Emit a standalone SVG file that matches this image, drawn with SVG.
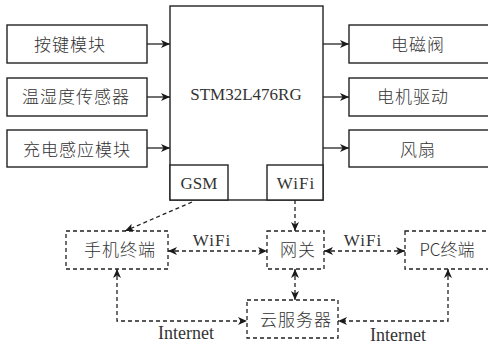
<svg xmlns="http://www.w3.org/2000/svg" width="488" height="350" viewBox="0 0 488 350">
<defs>
<marker id="ah" viewBox="0 0 9 8" refX="9" refY="4" markerWidth="9" markerHeight="8" markerUnits="userSpaceOnUse" orient="auto-start-reverse">
<path d="M0,0 L9,4 L0,8 L2.5,4 z" fill="#1a1a1a"/>
</marker>
</defs>
<style>
.box{fill:#fff;stroke:#222;stroke-width:1.4}
.dbox{fill:none;stroke:#222;stroke-width:1.3;stroke-dasharray:4 3}
.ln{fill:none;stroke:#222;stroke-width:1.3}
.dl{fill:none;stroke:#222;stroke-width:1.3;stroke-dasharray:4 3}
.zh{font-family:"Noto Sans CJK SC",sans-serif;font-size:17px;font-weight:300;fill:#333;text-anchor:middle;letter-spacing:1px}
.en{font-family:"Liberation Serif",serif;font-size:17px;fill:#333;text-anchor:middle}
</style>
<g id="n-keys"><rect class="box" x="7" y="25" width="140" height="38"/><text class="zh" x="70" y="51">按键模块</text></g>
<g id="n-temp"><rect class="box" x="7" y="78" width="140" height="38"/><text class="zh" x="76" y="103">温湿度传感器</text></g>
<g id="n-charge"><rect class="box" x="7" y="130" width="140" height="37"/><text class="zh" x="77" y="156">充电感应模块</text></g>
<g id="n-mcu"><rect class="box" x="170" y="6" width="153" height="194"/><text class="en" x="246" y="100">STM32L476RG</text></g>
<g id="n-gsm"><rect class="box" x="170" y="165" width="58" height="35"/><text class="en" x="199" y="189">GSM</text></g>
<g id="n-wifi"><rect class="box" x="267" y="165" width="56" height="35"/><text class="en" x="296" y="189" style="letter-spacing:1px">WiFi</text></g>
<g id="n-valve"><rect class="box" x="349" y="25" width="145" height="38"/><text class="zh" x="418" y="51">电磁阀</text></g>
<g id="n-motor"><rect class="box" x="349" y="78" width="145" height="38"/><text class="zh" x="413" y="103">电机驱动</text></g>
<g id="n-fan"><rect class="box" x="349" y="130" width="145" height="37"/><text class="zh" x="418" y="156">风扇</text></g>
<g id="n-phone"><rect class="dbox" x="66" y="231" width="102" height="38"/><text class="zh" x="120" y="256">手机终端</text></g>
<g id="n-gw"><rect class="dbox" x="267" y="231" width="57" height="38"/><text class="zh" x="298" y="256">网关</text></g>
<g id="n-pc"><rect class="dbox" x="405" y="231" width="90" height="38"/><text class="zh" x="447" y="256" style="letter-spacing:0">PC终端</text></g>
<g id="n-cloud"><rect class="dbox" x="247" y="300" width="91" height="38"/><text class="zh" x="296" y="326">云服务器</text></g>
<g id="connectors">
<line class="ln" x1="147" y1="44" x2="170" y2="44" marker-end="url(#ah)"/>
<line class="ln" x1="147" y1="97" x2="170" y2="97" marker-end="url(#ah)"/>
<line class="ln" x1="147" y1="148" x2="170" y2="148" marker-end="url(#ah)"/>
<line class="ln" x1="323" y1="44" x2="349" y2="44" marker-end="url(#ah)"/>
<line class="ln" x1="323" y1="97" x2="349" y2="97" marker-end="url(#ah)"/>
<line class="ln" x1="323" y1="148" x2="349" y2="148" marker-end="url(#ah)"/>
<line class="dl" x1="192" y1="202" x2="125" y2="231" marker-end="url(#ah)"/>
<line class="dl" x1="295" y1="200" x2="295" y2="231" marker-end="url(#ah)"/>
<line class="dl" x1="168" y1="251" x2="267" y2="251" marker-start="url(#ah)" marker-end="url(#ah)"/>
<line class="dl" x1="324" y1="251" x2="405" y2="251" marker-start="url(#ah)" marker-end="url(#ah)"/>
<line class="dl" x1="295" y1="269" x2="295" y2="300" marker-start="url(#ah)" marker-end="url(#ah)"/>
<path class="dl" d="M117,269 L117,321 L247,321" marker-start="url(#ah)" marker-end="url(#ah)"/>
<path class="dl" d="M448,269 L448,321 L338,321" marker-start="url(#ah)" marker-end="url(#ah)"/>
<text class="en" x="212" y="246" style="letter-spacing:1px">WiFi</text>
<text class="en" x="363" y="246" style="letter-spacing:1px">WiFi</text>
<text class="en" x="186" y="339" style="font-size:18px">Internet</text>
<text class="en" x="398" y="341" style="font-size:18px">Internet</text>
</g>
</svg>
